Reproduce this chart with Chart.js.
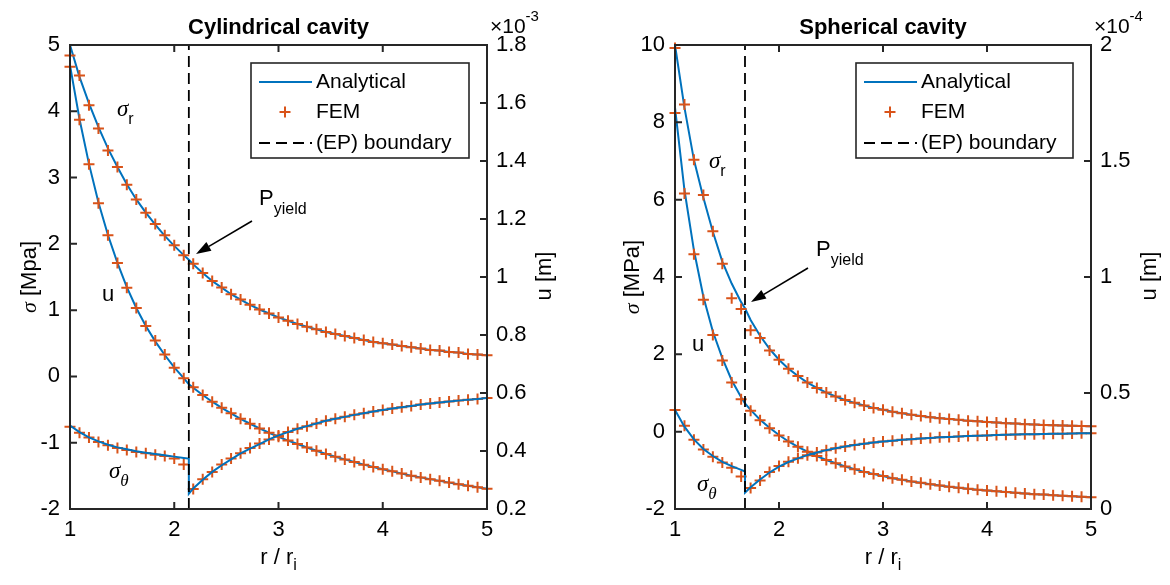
<!DOCTYPE html>
<html>
<head>
<meta charset="utf-8">
<script src="https://cdn.jsdelivr.net/npm/chart.js@4.4.1/dist/chart.umd.min.js"></script>
<style>
  html, body { margin: 0; padding: 0; background: #fff; }
  #wrap { position: relative; width: 1170px; height: 585px; }
  .panel { position: absolute; top: 0; width: 585px; height: 585px; }
</style>
</head>
<body>
<div id="wrap">
  <div class="panel" style="left:0"><canvas id="cylChart" width="585" height="585"></canvas></div>
  <div class="panel" style="left:585px"><canvas id="sphChart" width="585" height="585"></canvas></div>
</div>
<script>
// ---- data ----
const xTicks = [1, 2, 3, 4, 5];

// FEM nodes (r / ri)
const rNodes = [1, 1.091, 1.182, 1.273, 1.364, 1.455, 1.545, 1.636, 1.727, 1.818, 1.909,
  2, 2.091, 2.182, 2.273, 2.364, 2.455, 2.545, 2.636, 2.727, 2.818, 2.909,
  3, 3.091, 3.182, 3.273, 3.364, 3.455, 3.545, 3.636, 3.727, 3.818, 3.909,
  4, 4.091, 4.182, 4.273, 4.364, 4.455, 4.545, 4.636, 4.727, 4.818, 4.909, 5];

// cylindrical cavity
const cylBoundary = 2.14;
const cylYTicks = [-2, -1, 0, 1, 2, 3, 4, 5];
const cylUTicks = [0.2, 0.4, 0.6, 0.8, 1, 1.2, 1.4, 1.6, 1.8];
// analytical: 13 plastic nodes, boundary twice, 32 elastic nodes
const cylSrLine = [5.00, 4.52, 4.12, 3.76, 3.44, 3.16, 2.90, 2.67, 2.47, 2.29, 2.12, 1.97, 1.83,
  1.76, 1.76,
  1.69, 1.56, 1.44, 1.34, 1.24, 1.16, 1.08, 1.01, 0.95, 0.89, 0.84, 0.79, 0.75, 0.71, 0.67, 0.64,
  0.61, 0.58, 0.55, 0.52, 0.50, 0.48, 0.46, 0.44, 0.42, 0.40, 0.39, 0.37, 0.36, 0.34, 0.33, 0.32];
const cylStLine = [-0.74, -0.84, -0.92, -0.98, -1.03, -1.07, -1.10, -1.13, -1.15, -1.17, -1.19, -1.21, -1.23,
  -1.24, -1.77,
  -1.69, -1.56, -1.44, -1.34, -1.25, -1.16, -1.09, -1.02, -0.95, -0.89, -0.84, -0.79, -0.75, -0.71, -0.67, -0.64,
  -0.61, -0.58, -0.555, -0.53, -0.505, -0.485, -0.465, -0.445, -0.425, -0.41, -0.395, -0.38, -0.365, -0.35, -0.34, -0.325];
const cylULine = [1.73, 1.545, 1.39, 1.257, 1.145, 1.049, 0.965, 0.893, 0.831, 0.778, 0.731, 0.688, 0.651,
  0.630, 0.630,
  0.618, 0.593, 0.570, 0.549, 0.530, 0.511, 0.494, 0.478, 0.463, 0.449, 0.436, 0.424, 0.412, 0.401, 0.390, 0.380,
  0.371, 0.362, 0.353, 0.345, 0.337, 0.330, 0.322, 0.315, 0.309, 0.303, 0.297, 0.291, 0.285, 0.280, 0.275, 0.270];
const cylSrFem = [4.84, 4.54, 4.09, 3.74, 3.41, 3.16, 2.89, 2.67, 2.47, 2.30, 2.13, 1.98, 1.83,
  1.70, 1.56, 1.44, 1.34, 1.24, 1.16, 1.08, 1.01, 0.95, 0.89, 0.84, 0.79, 0.75, 0.71, 0.67, 0.64,
  0.61, 0.58, 0.55, 0.52, 0.50, 0.48, 0.46, 0.44, 0.42, 0.40, 0.39, 0.37, 0.36, 0.34, 0.33, 0.32];
const cylStFem = [-0.76, -0.85, -0.92, -0.99, -1.04, -1.08, -1.11, -1.14, -1.16, -1.18, -1.20, -1.24, -1.33,
  -1.70, -1.55, -1.44, -1.33, -1.24, -1.16, -1.08, -1.01, -0.95, -0.89, -0.84, -0.79, -0.75, -0.71, -0.67, -0.64,
  -0.61, -0.58, -0.555, -0.53, -0.505, -0.485, -0.465, -0.445, -0.425, -0.41, -0.395, -0.38, -0.365, -0.35, -0.34, -0.325];
const cylUFem = [1.725, 1.542, 1.389, 1.254, 1.144, 1.048, 0.963, 0.893, 0.831, 0.781, 0.733, 0.687, 0.651,
  0.620, 0.593, 0.570, 0.549, 0.530, 0.511, 0.494, 0.478, 0.463, 0.449, 0.436, 0.424, 0.412, 0.401, 0.390, 0.380,
  0.371, 0.362, 0.353, 0.345, 0.337, 0.330, 0.322, 0.315, 0.309, 0.303, 0.297, 0.291, 0.285, 0.280, 0.275, 0.270];

// spherical cavity
const sphBoundary = 1.673;
const sphYTicks = [-2, 0, 2, 4, 6, 8, 10];
const sphUTicks = [0, 0.5, 1, 1.5, 2];
// analytical: 8 plastic nodes, boundary twice, 37 elastic nodes
const sphSrLine = [10.0, 8.38, 7.03, 6.05, 5.17, 4.40, 3.83, 3.35,
  3.19, 3.19,
  2.89, 2.48, 2.14, 1.86, 1.63, 1.44, 1.27, 1.13, 1.01, 0.91, 0.82, 0.745, 0.675, 0.615, 0.565, 0.515,
  0.475, 0.44, 0.405, 0.375, 0.35, 0.325, 0.305, 0.285, 0.27, 0.25, 0.235, 0.22, 0.21, 0.195, 0.185,
  0.175, 0.165, 0.16, 0.15, 0.145, 0.14];
const sphStLine = [0.56, 0.13, -0.20, -0.45, -0.63, -0.78, -0.89, -0.99,
  -1.03, -1.58,
  -1.44, -1.235, -1.055, -0.905, -0.785, -0.69, -0.607, -0.537, -0.478, -0.428, -0.384, -0.346, -0.313,
  -0.283, -0.256, -0.232, -0.211, -0.193, -0.176, -0.161, -0.147, -0.135, -0.124, -0.114, -0.105, -0.096,
  -0.089, -0.082, -0.076, -0.070, -0.064, -0.059, -0.055, -0.051, -0.047, -0.043, -0.040];
const sphULine = [1.73, 1.375, 1.115, 0.915, 0.765, 0.650, 0.555, 0.482,
  0.455, 0.455,
  0.427, 0.385, 0.350, 0.319, 0.291, 0.268, 0.247, 0.228, 0.211, 0.197, 0.183, 0.171, 0.160, 0.151,
  0.142, 0.133, 0.126, 0.119, 0.113, 0.107, 0.101, 0.096, 0.092, 0.087, 0.083, 0.080, 0.076, 0.073,
  0.070, 0.067, 0.064, 0.062, 0.059, 0.057, 0.055, 0.053, 0.051];
const sphSrFem = [9.92, 8.46, 7.03, 6.12, 5.18, 4.34, 3.45, 3.17,
  2.62, 2.42, 2.10, 1.86, 1.63, 1.44, 1.27, 1.13, 1.01, 0.91, 0.82, 0.745, 0.675, 0.615, 0.565, 0.515,
  0.475, 0.44, 0.405, 0.375, 0.35, 0.325, 0.305, 0.285, 0.27, 0.25, 0.235, 0.22, 0.21, 0.195, 0.185,
  0.175, 0.165, 0.16, 0.15, 0.145, 0.14];
const sphStFem = [0.56, 0.15, -0.21, -0.46, -0.65, -0.80, -0.93, -1.16,
  -1.46, -1.26, -1.04, -0.89, -0.78, -0.69, -0.607, -0.537, -0.478, -0.428, -0.384, -0.346, -0.313,
  -0.283, -0.256, -0.232, -0.211, -0.193, -0.176, -0.161, -0.147, -0.135, -0.124, -0.114, -0.105, -0.096,
  -0.089, -0.082, -0.076, -0.070, -0.064, -0.059, -0.055, -0.051, -0.047, -0.043, -0.040];
const sphUFem = [1.707, 1.36, 1.098, 0.902, 0.75, 0.64, 0.545, 0.473,
  0.423, 0.383, 0.348, 0.317, 0.291, 0.268, 0.247, 0.228, 0.211, 0.197, 0.183, 0.171, 0.160, 0.151,
  0.142, 0.133, 0.126, 0.119, 0.113, 0.107, 0.101, 0.096, 0.092, 0.087, 0.083, 0.080, 0.076, 0.073,
  0.070, 0.067, 0.064, 0.062, 0.059, 0.057, 0.055, 0.053, 0.051];

// ---- styling ----
const BLUE = '#0072BD';
const ORANGE = '#D95319';
const AXIS = '#262626';
const SANS = "'Liberation Sans', Arial, Helvetica, sans-serif";
const SERIF = "'Liberation Serif', 'Times New Roman', serif";
const TICK = 7;

function pts(xs, ys) {
  return xs.map((x, i) => ({ x: x, y: ys[i] }));
}

function lineX(split, b) {
  return rNodes.slice(0, split).concat([b, b], rNodes.slice(split));
}

// draw a run of text pieces: [text, font, dy]
function drawRun(ctx, pieces, x, y, align) {
  let total = 0;
  pieces.forEach(p => { ctx.font = p[1]; total += ctx.measureText(p[0]).width; });
  let cx = align === 'center' ? x - total / 2 : x;
  ctx.textAlign = 'left';
  ctx.textBaseline = 'middle';
  pieces.forEach(p => {
    ctx.font = p[1];
    ctx.fillText(p[0], cx, y + (p[2] || 0));
    cx += ctx.measureText(p[0]).width;
  });
}

function arrow(ctx, x1, y1, x2, y2) {
  const ang = Math.atan2(y2 - y1, x2 - x1);
  const len = 15, half = 5;
  const bx = x2 - len * Math.cos(ang), by = y2 - len * Math.sin(ang);
  ctx.strokeStyle = '#000';
  ctx.lineWidth = 1.6;
  ctx.beginPath();
  ctx.moveTo(x1, y1);
  ctx.lineTo(bx, by);
  ctx.stroke();
  ctx.fillStyle = '#000';
  ctx.beginPath();
  ctx.moveTo(x2, y2);
  ctx.lineTo(bx + half * Math.sin(ang), by - half * Math.cos(ang));
  ctx.lineTo(bx - half * Math.sin(ang), by + half * Math.cos(ang));
  ctx.closePath();
  ctx.fill();
}

function overlay(p) {
  return {
    id: 'matlabLook',
    afterDraw(chart) {
      const ctx = chart.ctx, a = chart.chartArea;
      const xs = chart.scales.x, ys = chart.scales.y, us = chart.scales.y2;
      ctx.save();

      // axes box and inward ticks
      ctx.strokeStyle = AXIS;
      ctx.lineWidth = 2;
      ctx.strokeRect(a.left, a.top, a.right - a.left, a.bottom - a.top);
      ctx.beginPath();
      xTicks.forEach(v => {
        const px = xs.getPixelForValue(v);
        ctx.moveTo(px, a.bottom); ctx.lineTo(px, a.bottom - TICK);
        ctx.moveTo(px, a.top); ctx.lineTo(px, a.top + TICK);
      });
      p.yTicks.forEach(v => {
        const py = ys.getPixelForValue(v);
        ctx.moveTo(a.left, py); ctx.lineTo(a.left + TICK, py);
      });
      p.uTicks.forEach(v => {
        const py = us.getPixelForValue(v);
        ctx.moveTo(a.right, py); ctx.lineTo(a.right - TICK, py);
      });
      ctx.stroke();

      ctx.fillStyle = '#000';
      // title
      ctx.font = 'bold 22px ' + SANS;
      ctx.textAlign = 'center';
      ctx.textBaseline = 'middle';
      ctx.fillText(p.title, (a.left + a.right) / 2, 28);

      // exponent
      drawRun(ctx, [['\u00d710', '21px ' + SANS, 0], [p.expo, '15px ' + SANS, -10]], a.right + 3, 27, 'left');

      // x label
      drawRun(ctx, [['r / r', '22px ' + SANS, 0], ['i', '16px ' + SANS, 8]], (a.left + a.right) / 2, 558, 'center');

      // y labels (rotated)
      ctx.save();
      ctx.translate(p.yLabelX, 277);
      ctx.rotate(-Math.PI / 2);
      drawRun(ctx, [['\u03c3', 'italic 22px ' + SERIF, 0], [' ' + p.yUnit, '22px ' + SANS, 0]], 0, 0, 'center');
      ctx.restore();
      ctx.save();
      ctx.translate(p.uLabelX, 276);
      ctx.rotate(-Math.PI / 2);
      drawRun(ctx, [['u [m]', '22px ' + SANS, 0]], 0, 0, 'center');
      ctx.restore();

      // curve annotations
      const n = p.notes;
      drawRun(ctx, [['\u03c3', 'italic 23px ' + SERIF, 0], ['r', '16px ' + SANS, 10]], n.sr[0], n.sr[1], 'left');
      drawRun(ctx, [['u', '22px ' + SANS, 0]], n.u[0], n.u[1], 'left');
      drawRun(ctx, [['\u03c3', 'italic 23px ' + SERIF, 0], ['\u03b8', 'italic 17px ' + SERIF, 10]], n.st[0], n.st[1], 'left');
      drawRun(ctx, [['P', '22px ' + SANS, 0], ['yield', '16px ' + SANS, 11]], n.p[0], n.p[1], 'left');
      arrow(ctx, n.arrow[0], n.arrow[1], n.arrow[2], n.arrow[3]);

      // legend
      const L = p.legend;
      ctx.fillStyle = '#fff';
      ctx.fillRect(L.x, L.y, L.w, L.h);
      ctx.strokeStyle = AXIS;
      ctx.lineWidth = 1.6;
      ctx.strokeRect(L.x, L.y, L.w, L.h);
      const rows = [L.y + 19, L.y + 49, L.y + 80];
      ctx.lineWidth = 2;
      ctx.strokeStyle = BLUE;
      ctx.beginPath(); ctx.moveTo(L.x + 8, rows[0]); ctx.lineTo(L.x + 61, rows[0]); ctx.stroke();
      ctx.strokeStyle = ORANGE;
      ctx.lineWidth = 2;
      ctx.beginPath();
      ctx.moveTo(L.x + 34 - 5.5, rows[1]); ctx.lineTo(L.x + 34 + 5.5, rows[1]);
      ctx.moveTo(L.x + 34, rows[1] - 5.5); ctx.lineTo(L.x + 34, rows[1] + 5.5);
      ctx.stroke();
      ctx.strokeStyle = '#000';
      ctx.lineWidth = 1.8;
      ctx.setLineDash([11, 6]);
      ctx.beginPath(); ctx.moveTo(L.x + 8, rows[2]); ctx.lineTo(L.x + 61, rows[2]); ctx.stroke();
      ctx.setLineDash([]);
      ctx.fillStyle = '#000';
      ctx.font = '21px ' + SANS;
      ctx.textAlign = 'left';
      ctx.textBaseline = 'middle';
      ctx.fillText('Analytical', L.x + 65, rows[0]);
      ctx.fillText('FEM', L.x + 65, rows[1]);
      ctx.fillText('(EP) boundary', L.x + 65, rows[2]);

      ctx.restore();
    }
  };
}

function makeChart(id, p) {
  const lx = lineX(p.split, p.boundary);
  const lineDs = (ys, axis, order) => ({
    data: pts(lx, ys), yAxisID: axis, showLine: true, borderColor: BLUE, borderWidth: 2,
    pointRadius: 0, tension: 0, order: order
  });
  const femDs = (ys, axis, order) => ({
    data: pts(rNodes, ys), yAxisID: axis, showLine: false, pointStyle: 'cross', pointRadius: 5.5,
    borderColor: ORANGE, backgroundColor: ORANGE, borderWidth: 2, clip: false, order: order
  });
  const tickFont = { family: SANS, size: 22 };
  new Chart(document.getElementById(id).getContext('2d'), {
    type: 'scatter',
    data: {
      datasets: [
        lineDs(p.srLine, 'y', 7),
        lineDs(p.uLine, 'y2', 6),
        femDs(p.srFem, 'y', 5),
        femDs(p.uFem, 'y2', 4),
        femDs(p.stFem, 'y', 3),
        lineDs(p.stLine, 'y', 2),
        {
          data: [{ x: p.boundary, y: p.yTicks[0] }, { x: p.boundary, y: p.yTicks[p.yTicks.length - 1] }],
          yAxisID: 'y', showLine: true, borderColor: '#000', borderWidth: 1.8, borderDash: [11, 6],
          pointRadius: 0, order: 1
        }
      ]
    },
    options: {
      responsive: false,
      animation: false,
      layout: { padding: { top: 45, left: 0, right: 0, bottom: 0 } },
      plugins: { legend: { display: false }, title: { display: false }, tooltip: { enabled: false } },
      scales: {
        x: {
          type: 'linear', min: 1, max: 5,
          afterBuildTicks: s => { s.ticks = xTicks.map(v => ({ value: v })); },
          afterFit: s => { s.height = 76; },
          grid: { display: false, drawTicks: false }, border: { display: false },
          ticks: { font: tickFont, color: '#000', padding: 8, maxRotation: 0, autoSkip: false, callback: v => String(v) }
        },
        y: {
          type: 'linear', position: 'left', min: p.yTicks[0], max: p.yTicks[p.yTicks.length - 1],
          afterBuildTicks: s => { s.ticks = p.yTicks.map(v => ({ value: v })); },
          afterFit: s => { s.width = p.leftW; },
          grid: { display: false, drawTicks: false }, border: { display: false },
          ticks: { font: tickFont, color: '#000', padding: 10, autoSkip: false, callback: v => String(v) }
        },
        y2: {
          type: 'linear', position: 'right', min: p.uTicks[0], max: p.uTicks[p.uTicks.length - 1],
          afterBuildTicks: s => { s.ticks = p.uTicks.map(v => ({ value: v })); },
          afterFit: s => { s.width = p.rightW; },
          grid: { display: false, drawTicks: false }, border: { display: false },
          ticks: { font: tickFont, color: '#000', padding: 9, autoSkip: false, callback: v => String(v) }
        }
      }
    },
    plugins: [overlay(p)]
  });
}

makeChart('cylChart', {
  title: 'Cylindrical cavity', expo: '-3', yUnit: '[Mpa]',
  boundary: cylBoundary, split: 13, yTicks: cylYTicks, uTicks: cylUTicks,
  srLine: cylSrLine, stLine: cylStLine, uLine: cylULine,
  srFem: cylSrFem, stFem: cylStFem, uFem: cylUFem,
  leftW: 70, rightW: 98, yLabelX: 30, uLabelX: 545,
  notes: { sr: [117, 110], u: [102, 295], st: [109, 472], p: [259, 199], arrow: [252, 221, 196, 254] },
  legend: { x: 251, y: 63, w: 218, h: 95 }
});

makeChart('sphChart', {
  title: 'Spherical cavity', expo: '-4', yUnit: '[MPa]',
  boundary: sphBoundary, split: 8, yTicks: sphYTicks, uTicks: sphUTicks,
  srLine: sphSrLine, stLine: sphStLine, uLine: sphULine,
  srFem: sphSrFem, stFem: sphStFem, uFem: sphUFem,
  leftW: 90, rightW: 79, yLabelX: 48, uLabelX: 565,
  notes: { sr: [124, 162], u: [107, 345], st: [112, 485], p: [231, 250], arrow: [223, 268, 166, 302] },
  legend: { x: 271, y: 63, w: 217, h: 95 }
});
</script>
</body>
</html>
